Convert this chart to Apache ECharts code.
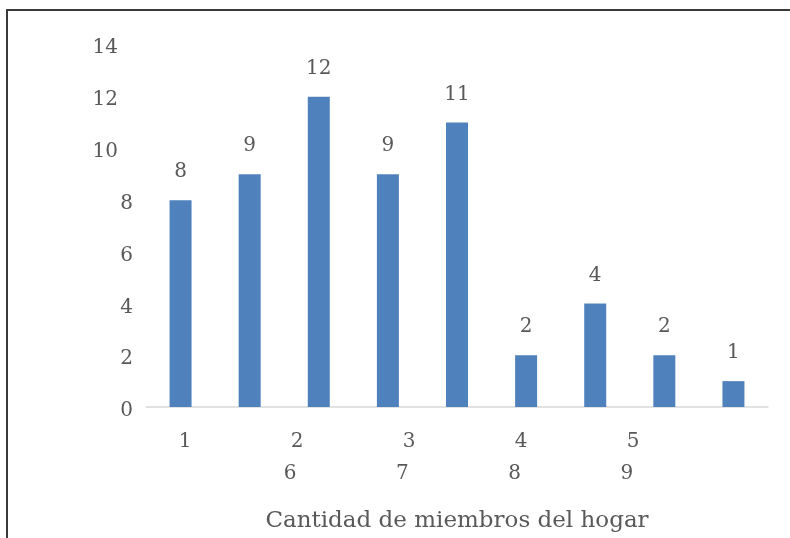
<!DOCTYPE html>
<html>
<head>
<meta charset="utf-8">
<script src="https://cdn.jsdelivr.net/npm/echarts@6/dist/echarts.min.js"></script>
<style>
  html, body { margin: 0; padding: 0; background: #fff; }
  #chart { width: 790px; height: 538px; }
</style>
</head>
<body>
<div id="chart"></div>
<script>
// datos
const categorias = ['1', '2', '3', '4', '5', '6', '7', '8', '9'];
const hogares = [8, 9, 12, 9, 11, 2, 4, 2, 1];
const yTicks = [0, 2, 4, 6, 8, 10, 12, 14];
// etiquetas del eje x tal como aparecen (dos filas desfasadas)
const etiquetasFila1 = ['1', '2', '3', '4', '5'];
const etiquetasFila2 = ['6', '7', '8', '9'];

const fuente = '"DejaVu Serif", "Liberation Serif", serif';
const gris = '#595959';
const azul = '#4f81bd';
const tam = 20;

const chart = echarts.init(document.getElementById('chart'));

const ejeEtiquetas = (gridIndex, datos) => ({
  type: 'category',
  gridIndex,
  data: datos,
  axisLine: { show: false },
  axisTick: { show: false },
  splitLine: { show: false },
  axisLabel: { color: gris, fontFamily: fuente, fontSize: tam, margin: 0 }
});

chart.setOption({
  animation: false,
  backgroundColor: '#fff',
  grid: [
    { left: 146, right: 22, top: 45, bottom: 130 },
    { left: 129, right: 101, top: 300, bottom: 106 },
    { left: 234, right: 107, top: 300, bottom: 74 }
  ],
  xAxis: [
    {
      type: 'category',
      gridIndex: 0,
      data: categorias,
      axisLine: { lineStyle: { color: '#d9d9d9', width: 1.5 } },
      axisTick: { show: false },
      axisLabel: { show: false },
      name: 'Cantidad de miembros del hogar',
      nameLocation: 'middle',
      nameGap: 103,
      nameTextStyle: { color: gris, fontFamily: fuente, fontSize: 23 }
    },
    ejeEtiquetas(1, etiquetasFila1),
    ejeEtiquetas(2, etiquetasFila2)
  ],
  yAxis: [
    {
      type: 'value',
      gridIndex: 0,
      min: yTicks[0],
      max: yTicks[yTicks.length - 1],
      interval: 2,
      axisLine: { show: false },
      axisTick: { show: false },
      splitLine: { show: false },
      axisLabel: {
        margin: 13,
        align: 'right',
        verticalAlign: 'middle',
        formatter: v => (v >= 10 ? '{d|' + v + '}' : '{s|' + v + '}'),
        rich: {
          s: { color: gris, fontFamily: fuente, fontSize: tam, padding: [8, 0, 0, 0] },
          d: { color: gris, fontFamily: fuente, fontSize: tam, padding: [6, 15, 0, 0] }
        }
      }
    },
    { type: 'value', gridIndex: 1, show: false },
    { type: 'value', gridIndex: 2, show: false }
  ],
  series: [
    {
      type: 'bar',
      xAxisIndex: 0,
      yAxisIndex: 0,
      data: hogares,
      barWidth: 22,
      itemStyle: { color: azul },
      label: {
        show: true,
        position: 'top',
        distance: 18,
        color: gris,
        fontFamily: fuente,
        fontSize: tam
      }
    }
  ],
  graphic: [
    {
      type: 'polyline',
      shape: { points: [[7, 538], [7, 10], [790, 10]] },
      style: { stroke: '#3a3a3a', lineWidth: 2, fill: null }
    }
  ]
});
</script>
</body>
</html>
